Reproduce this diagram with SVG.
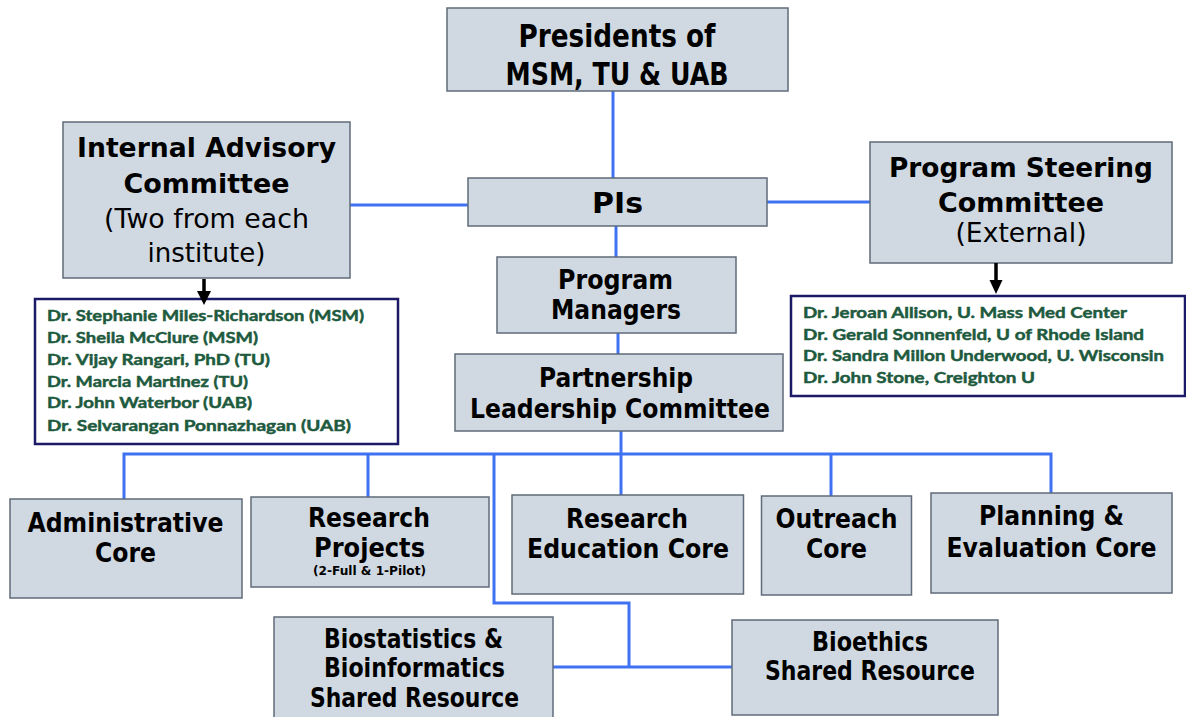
<svg xmlns="http://www.w3.org/2000/svg" width="1186" height="717" viewBox="0 0 1186 717">
<defs>
<style>
.box{fill:#d0d9e2;stroke:#5f6b7a;stroke-width:1.5}
.list{fill:#ffffff;stroke:#1c1a66;stroke-width:2.5}
.conn{fill:none;stroke:#3f72f2;stroke-width:3}
.arr{fill:none;stroke:#000;stroke-width:3.5}
.head{fill:#000}
.t{font-family:"DejaVu Sans Condensed","DejaVu Sans",sans-serif;font-weight:bold;fill:#000;text-anchor:middle}
.v{font-family:"DejaVu Sans",sans-serif;font-weight:bold;fill:#000;text-anchor:middle}
.r{font-family:"DejaVu Sans",sans-serif;font-weight:normal;fill:#000;text-anchor:middle}
.n{font-family:Lato,"Liberation Sans",sans-serif;font-weight:bold;fill:#1e5a3e;stroke:#1e5a3e;stroke-width:0.45;font-size:14.5px}
</style>
</defs>
<rect width="1186" height="717" fill="#ffffff"/>

<g id="connectors">
<path class="conn" d="M613,91 V178"/>
<path class="conn" d="M350,205 H468"/>
<path class="conn" d="M767,202 H870"/>
<path class="conn" d="M616,226 V257"/>
<path class="conn" d="M618,333 V354"/>
<path class="conn" d="M621,431 V495"/>
<path class="conn" d="M124,499 V454 H1051 V493"/>
<path class="conn" d="M368,454 V497"/>
<path class="conn" d="M831,454 V496"/>
<path class="conn" d="M494,454 V603 H629 V667"/>
<path class="conn" d="M553,667 H732"/>
</g>

<g id="presidents">
<rect class="box" x="447" y="8" width="341" height="83"/>
<text class="t" x="617" y="47" font-size="32" textLength="197" lengthAdjust="spacingAndGlyphs">Presidents of</text>
<text class="t" x="617" y="85" font-size="32" textLength="223" lengthAdjust="spacingAndGlyphs">MSM, TU &amp; UAB</text>
</g>

<g id="internal-advisory">
<rect class="box" x="63" y="122" width="287" height="156"/>
<text class="v" x="206.5" y="157" font-size="26.5" textLength="259" lengthAdjust="spacingAndGlyphs">Internal Advisory</text>
<text class="v" x="206.5" y="193" font-size="26.5" textLength="166" lengthAdjust="spacingAndGlyphs">Committee</text>
<text class="r" x="206.5" y="228" font-size="26.5" textLength="205" lengthAdjust="spacingAndGlyphs">(Two from each</text>
<text class="r" x="206.5" y="262" font-size="26.5" textLength="118" lengthAdjust="spacingAndGlyphs">institute)</text>
</g>

<g id="pis">
<rect class="box" x="468" y="178" width="299" height="48"/>
<text class="t" x="617.5" y="213" font-size="28" textLength="51" lengthAdjust="spacingAndGlyphs">PIs</text>
</g>

<g id="steering">
<rect class="box" x="870" y="142" width="302" height="121"/>
<text class="v" x="1021" y="177" font-size="26.5" textLength="264" lengthAdjust="spacingAndGlyphs">Program Steering</text>
<text class="v" x="1021" y="212" font-size="26.5" textLength="166" lengthAdjust="spacingAndGlyphs">Committee</text>
<text class="r" x="1021" y="242" font-size="26.5" textLength="131" lengthAdjust="spacingAndGlyphs">(External)</text>
</g>

<g id="internal-list">
<rect class="list" x="35" y="299" width="363" height="145"/>
<text class="n" x="47" y="321" textLength="317" lengthAdjust="spacingAndGlyphs">Dr. Stephanie Miles-Richardson (MSM)</text>
<text class="n" x="47" y="343" textLength="211" lengthAdjust="spacingAndGlyphs">Dr. Sheila McClure (MSM)</text>
<text class="n" x="47" y="365" textLength="223" lengthAdjust="spacingAndGlyphs">Dr. Vijay Rangari, PhD (TU)</text>
<text class="n" x="47" y="387" textLength="201" lengthAdjust="spacingAndGlyphs">Dr. Marcia Martinez (TU)</text>
<text class="n" x="47" y="408" textLength="205" lengthAdjust="spacingAndGlyphs">Dr. John Waterbor (UAB)</text>
<text class="n" x="47" y="431" textLength="304" lengthAdjust="spacingAndGlyphs">Dr. Selvarangan Ponnazhagan (UAB)</text>
</g>

<g id="external-list">
<rect class="list" x="791" y="296" width="394" height="100"/>
<text class="n" x="803" y="318" textLength="324" lengthAdjust="spacingAndGlyphs">Dr. Jeroan Allison, U. Mass Med Center</text>
<text class="n" x="803" y="340" textLength="341" lengthAdjust="spacingAndGlyphs">Dr. Gerald Sonnenfeld, U of Rhode Island</text>
<text class="n" x="803" y="361" textLength="361" lengthAdjust="spacingAndGlyphs">Dr. Sandra Millon Underwood, U. Wisconsin</text>
<text class="n" x="803" y="383" textLength="232" lengthAdjust="spacingAndGlyphs">Dr. John Stone, Creighton U</text>
</g>

<g id="arrows">
<path class="arr" d="M204,279 V294"/>
<polygon class="head" points="197,291 211,291 204,305"/>
<path class="arr" d="M996,263 V282"/>
<polygon class="head" points="989.5,280 1002.5,280 996,294"/>
</g>

<g id="program-managers">
<rect class="box" x="497" y="257" width="239" height="76"/>
<text class="t" x="615.5" y="289" font-size="26" textLength="115" lengthAdjust="spacingAndGlyphs">Program</text>
<text class="t" x="616" y="319" font-size="26" textLength="130" lengthAdjust="spacingAndGlyphs">Managers</text>
</g>

<g id="partnership">
<rect class="box" x="455" y="354" width="328" height="77"/>
<text class="t" x="616" y="387" font-size="26" textLength="154" lengthAdjust="spacingAndGlyphs">Partnership</text>
<text class="t" x="620" y="418" font-size="26" textLength="300" lengthAdjust="spacingAndGlyphs">Leadership Committee</text>
</g>

<g id="administrative-core">
<rect class="box" x="10" y="499" width="232" height="99"/>
<text class="t" x="125.5" y="532" font-size="27" textLength="196" lengthAdjust="spacingAndGlyphs">Administrative</text>
<text class="t" x="125.5" y="562" font-size="27" textLength="61" lengthAdjust="spacingAndGlyphs">Core</text>
</g>

<g id="research-projects">
<rect class="box" x="251" y="497" width="238" height="90"/>
<text class="t" x="369" y="527" font-size="27" textLength="122" lengthAdjust="spacingAndGlyphs">Research</text>
<text class="t" x="369.5" y="557" font-size="27" textLength="111" lengthAdjust="spacingAndGlyphs">Projects</text>
<text class="t" x="369.5" y="575" font-size="12" textLength="113" lengthAdjust="spacingAndGlyphs">(2-Full &amp; 1-Pilot)</text>
</g>

<g id="research-education-core">
<rect class="box" x="512" y="495" width="231.5" height="99"/>
<text class="t" x="627" y="528" font-size="27" textLength="122" lengthAdjust="spacingAndGlyphs">Research</text>
<text class="t" x="628" y="558" font-size="27" textLength="202" lengthAdjust="spacingAndGlyphs">Education Core</text>
</g>

<g id="outreach-core">
<rect class="box" x="761.5" y="496" width="150" height="99"/>
<text class="t" x="836.5" y="528" font-size="27" textLength="122" lengthAdjust="spacingAndGlyphs">Outreach</text>
<text class="t" x="836.5" y="558" font-size="27" textLength="61" lengthAdjust="spacingAndGlyphs">Core</text>
</g>

<g id="planning-evaluation-core">
<rect class="box" x="931" y="493" width="241" height="100"/>
<text class="t" x="1051.5" y="525" font-size="27" textLength="145" lengthAdjust="spacingAndGlyphs">Planning &amp;</text>
<text class="t" x="1051.5" y="557" font-size="27" textLength="210" lengthAdjust="spacingAndGlyphs">Evaluation Core</text>
</g>

<g id="biostatistics">
<rect class="box" x="274" y="617" width="279" height="106"/>
<text class="t" x="413.5" y="648" font-size="27" textLength="179" lengthAdjust="spacingAndGlyphs">Biostatistics &amp;</text>
<text class="t" x="414.5" y="677" font-size="27" textLength="181" lengthAdjust="spacingAndGlyphs">Bioinformatics</text>
<text class="t" x="414.5" y="707" font-size="27" textLength="209" lengthAdjust="spacingAndGlyphs">Shared Resource</text>
</g>

<g id="bioethics">
<rect class="box" x="732" y="620" width="266" height="95"/>
<text class="t" x="870" y="651" font-size="27" textLength="116" lengthAdjust="spacingAndGlyphs">Bioethics</text>
<text class="t" x="870" y="680" font-size="27" textLength="210" lengthAdjust="spacingAndGlyphs">Shared Resource</text>
</g>
</svg>
